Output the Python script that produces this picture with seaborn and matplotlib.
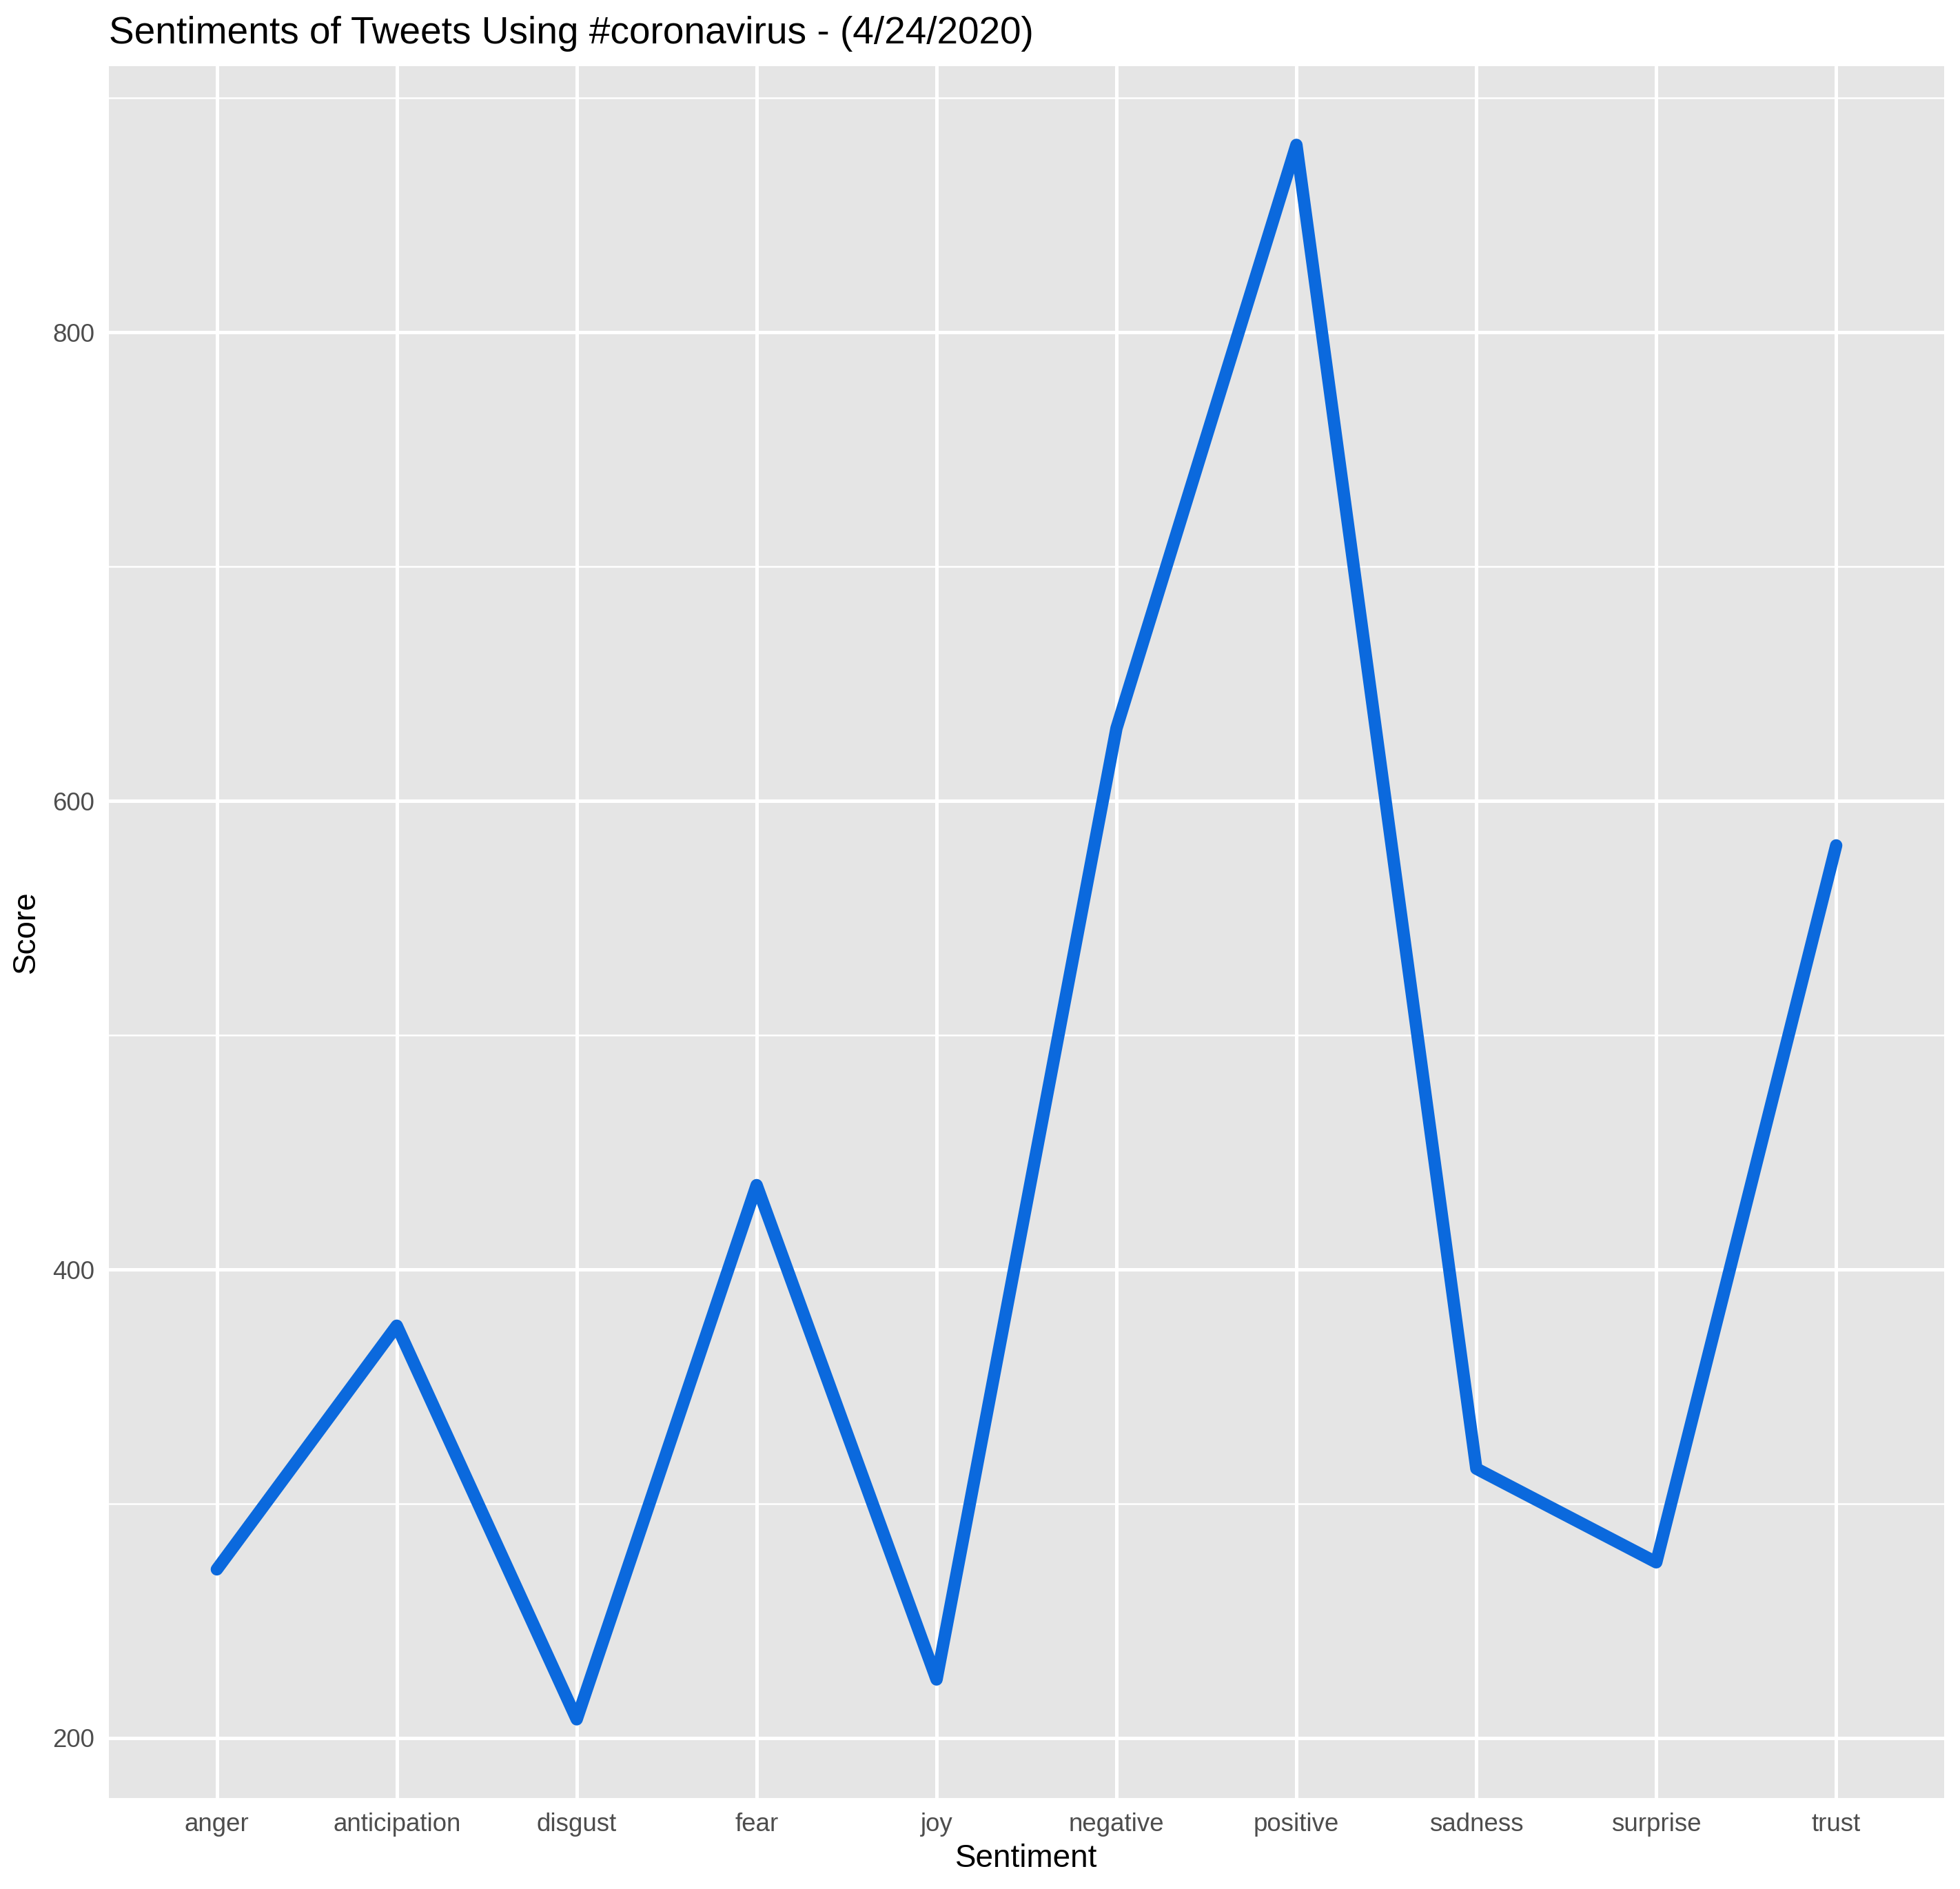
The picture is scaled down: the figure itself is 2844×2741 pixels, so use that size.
import matplotlib
matplotlib.use("Agg")
import matplotlib.pyplot as plt
import seaborn as sns
import pandas as pd
from matplotlib.ticker import MultipleLocator

sentiments = ["anger", "anticipation", "disgust", "fear", "joy",
              "negative", "positive", "sadness", "surprise", "trust"]
scores = [272, 376, 208, 436, 225, 631, 880, 315, 275, 581]

df = pd.DataFrame({"Sentiment": sentiments, "Score": scores})

sns.set_theme(style="darkgrid")
plt.rcParams["font.family"] = ["Liberation Sans", "DejaVu Sans"]

W, H, DPI = 2845, 2741, 300
fig = plt.figure(figsize=(W / DPI, H / DPI), dpi=DPI)
left, right, top, bottom = 158 / W, 2821 / W, 96 / H, 2609 / H
ax = fig.add_axes([left, 1 - bottom, right - left, bottom - top])
ax.set_facecolor("#E5E5E5")

sns.lineplot(data=df, x="Sentiment", y="Score", sort=False, ax=ax,
             color="#0B69DD", linewidth=4.3, solid_capstyle="round",
             solid_joinstyle="round", zorder=3)

ax.set_xlim(-0.6, len(sentiments) - 0.4)
ymin, ymax = min(scores), max(scores)
pad = 0.05 * (ymax - ymin)
ax.set_ylim(ymin - pad, ymax + pad)
ax.yaxis.set_major_locator(MultipleLocator(200))
ax.yaxis.set_minor_locator(MultipleLocator(100))
ax.set_xticks(range(len(sentiments)))
ax.set_xticklabels(sentiments)

ax.grid(which="major", color="white", linewidth=1.2)
ax.grid(which="minor", axis="y", color="white", linewidth=0.6)
ax.grid(which="minor", axis="x", visible=False)
for s in ax.spines.values():
    s.set_visible(False)

ax.tick_params(axis="both", which="major", length=2.75, width=1.0,
               color="#333333", labelsize=8.8, labelcolor="#4D4D4D", pad=2.2)
ax.tick_params(axis="both", which="minor", length=0)

ax.set_xlabel("Sentiment", fontsize=11, color="black", labelpad=2.5)
ax.set_ylabel("Score", fontsize=11, color="black", labelpad=4)
ax.set_title("Sentiments of Tweets Using #coronavirus - (4/24/2020)",
             fontsize=13.2, color="black", loc="left", pad=8)

fig.savefig("out.png", dpi=DPI)
